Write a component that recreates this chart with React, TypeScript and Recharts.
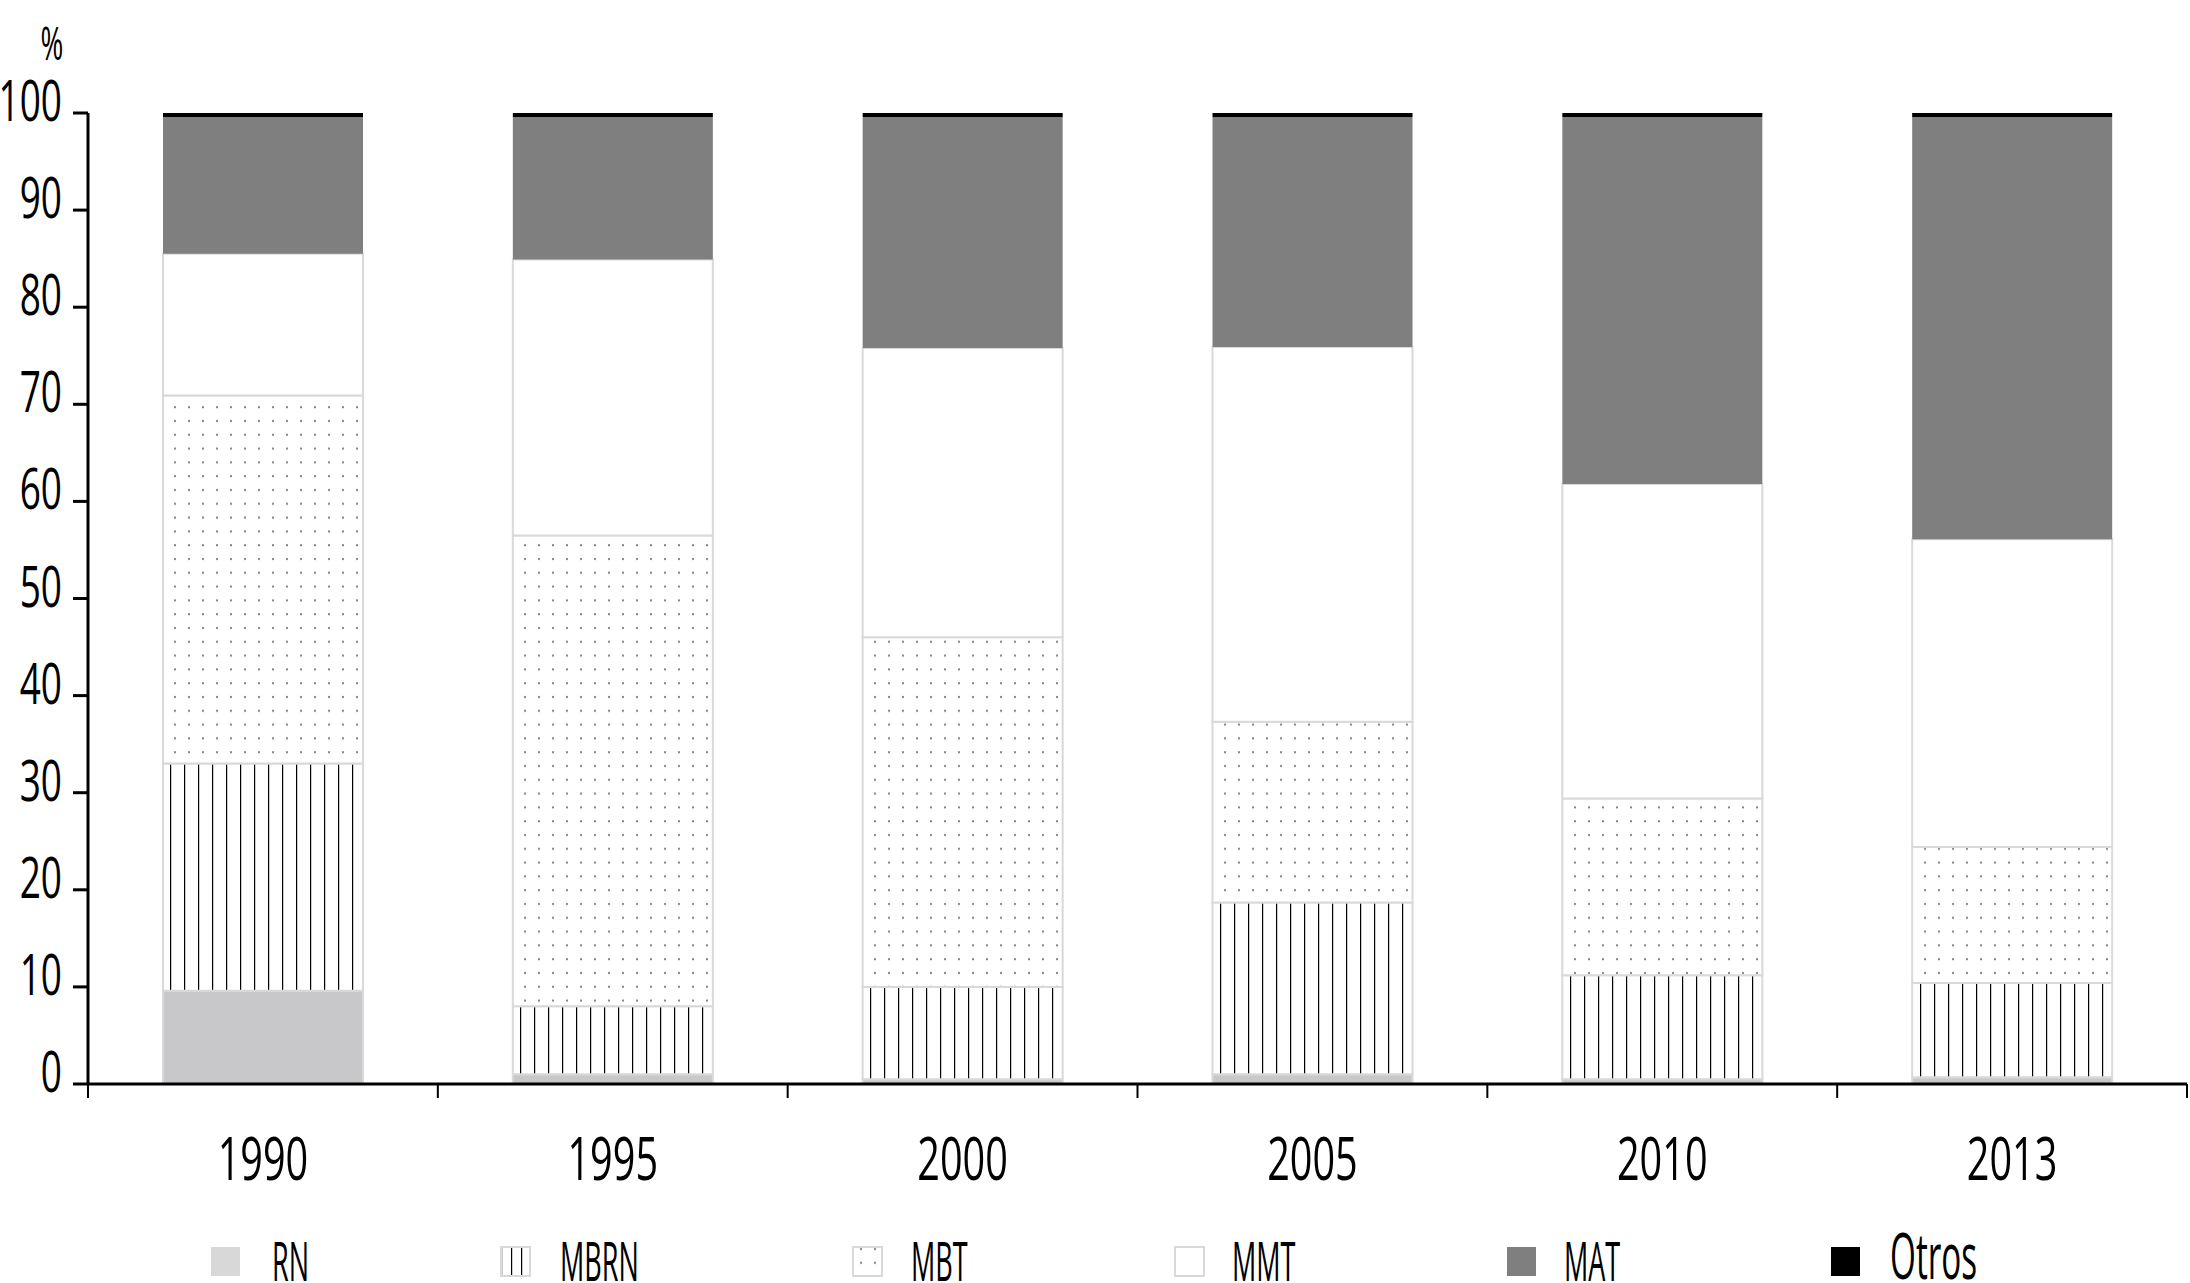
import React from 'react';
import { BarChart, Bar, XAxis, YAxis } from 'recharts';

const years = ['1990', '1995', '2000', '2005', '2010', '2013'];
const rn = [9.6, 1.0, 0.5, 1.0, 0.5, 0.7];
const mbrn = [23.4, 7.0, 9.5, 17.7, 10.7, 9.7];
const mbt = [37.9, 48.5, 36.0, 18.6, 18.2, 14.0];
const mmt = [14.6, 28.4, 29.8, 38.6, 32.4, 31.7];
const mat = [14.1, 14.7, 23.8, 23.7, 37.8, 43.5];
const otros = [0.4, 0.4, 0.4, 0.4, 0.4, 0.4];
const yTicks = [0, 10, 20, 30, 40, 50, 60, 70, 80, 90, 100];
const edgeTicks = [0, 1, 2, 3, 4, 5, 6];
const legendNames = ['RN', 'MBRN', 'MBT', 'MMT', 'MAT', 'Otros'];

const data = years.map((y, i) => ({
  year: y,
  RN: rn[i],
  MBRN: mbrn[i],
  MBT: mbt[i],
  MMT: mmt[i],
  MAT: mat[i],
  Otros: otros[i],
  edge: i + 0.5,
}));

const FONT = '"Open Sans", "DejaVu Sans", sans-serif';

const SText = ({ x, y, anchor, size, sx, children }: any) => (
  <text
    transform={`translate(${x},${y}) scale(${sx},1)`}
    textAnchor={anchor}
    fontSize={size}
    fontFamily={FONT}
    fill="#000"
  >
    {children}
  </text>
);

const YTick = (props: any) => {
  const { x, y, payload } = props;
  return (
    <SText x={x} y={y + 8} anchor="end" size={56} sx={0.66}>
      {payload.value}
    </SText>
  );
};

const XTick = (props: any) => {
  const { x, y, payload } = props;
  return (
    <SText x={x} y={y + 74} anchor="middle" size={60} sx={0.66}>
      {payload.value}
    </SText>
  );
};

const EmptyTick = () => <g />;

const fills: Record<string, string> = {
  RN: '#c8c8ca',
  MBRN: 'url(#pMBRN)',
  MBT: 'url(#pMBT)',
  MMT: '#ffffff',
  MAT: '#7f7f7f',
  Otros: '#000000',
};
const legendFills: Record<string, string> = {
  RN: '#d8d8d8',
  MBRN: 'url(#pMBRNL)',
  MBT: 'url(#pMBT)',
  MMT: '#ffffff',
  MAT: '#7f7f7f',
  Otros: '#000000',
};
const bordered: Record<string, boolean> = {
  RN: false,
  MBRN: true,
  MBT: true,
  MMT: true,
  MAT: false,
  Otros: false,
};

const legendLayout = [
  { sq: 210, tx: 272 },
  { sq: 500, tx: 560 },
  { sq: 852, tx: 911 },
  { sq: 1174, tx: 1232 },
  { sq: 1506, tx: 1564 },
  { sq: 1830, tx: 1890 },
];

export default function App() {
  return (
    <div style={{ position: 'absolute', left: 0, top: 0, width: 2190, height: 1283, background: '#fff' }}>
      <svg width={0} height={0} style={{ position: 'absolute' }}>
        <defs>
          <pattern id="pMBRN" patternUnits="userSpaceOnUse" width={14} height={14}>
            <rect width={14} height={14} fill="#fff" />
            <rect x={2} y={0} width={1.2} height={14} fill="#000" />
          </pattern>
          <pattern id="pMBRNL" patternUnits="userSpaceOnUse" width={10} height={14}>
            <rect width={10} height={14} fill="#fff" />
            <rect x={1} y={0} width={1.2} height={14} fill="#000" />
          </pattern>
          <pattern id="pMBT" patternUnits="userSpaceOnUse" width={14} height={13.8}>
            <rect width={14} height={13.8} fill="#fff" />
            <rect x={6} y={6} width={2} height={2} fill="#858585" />
          </pattern>
        </defs>
      </svg>
      <BarChart
        width={2190}
        height={1283}
        data={data}
        margin={{ top: 113, right: 3, left: 0, bottom: 85 }}
        barSize={200}
      >
        <XAxis
          xAxisId="a_edge"
          dataKey="edge"
          type="number"
          domain={[0, 6]}
          ticks={edgeTicks}
          interval={0}
          allowDataOverflow
          height={14}
          tick={EmptyTick}
          tickSize={14}
          tickMargin={0}
          axisLine={{ stroke: '#000', strokeWidth: 3 }}
          tickLine={{ stroke: '#000', strokeWidth: 2 }}
        />
        <XAxis
          xAxisId="b_cat"
          dataKey="year"
          type="category"
          height={100}
          axisLine={false}
          tickLine={false}
          tick={XTick}
          interval={0}
        />
        <YAxis
          type="number"
          domain={[0, 100]}
          ticks={yTicks}
          interval={0}
          width={88}
          axisLine={{ stroke: '#000', strokeWidth: 3 }}
          tickLine={{ stroke: '#000', strokeWidth: 3 }}
          tickSize={15}
          tickMargin={11}
          tick={YTick}
        />
        {legendNames.map((k) => (
          <Bar
            key={k}
            xAxisId="b_cat"
            dataKey={k}
            stackId="a"
            fill={fills[k]}
            stroke={k === 'MAT' || k === 'Otros' ? 'none' : '#d9d9d9'}
            strokeWidth={2}
            isAnimationActive={false}
          />
        ))}
      </BarChart>
      <svg width={2190} height={1283} style={{ position: 'absolute', left: 0, top: 0, pointerEvents: 'none' }}>
        <SText x={52} y={60} anchor="middle" size={46} sx={0.6}>
          %
        </SText>
        {legendNames.map((k, i) => (
          <g key={k}>
            <rect
              x={legendLayout[i].sq + 1}
              y={1247}
              width={29}
              height={29}
              fill={legendFills[k]}
              stroke={bordered[k] ? '#d9d9d9' : 'none'}
              strokeWidth={2}
            />
            <SText
              x={legendLayout[i].tx}
              y={k === 'Otros' ? 1279 : 1281}
              anchor="start"
              size={k === 'Otros' ? 64 : 54}
              sx={k === 'Otros' ? 0.52 : 0.5}
            >
              {k}
            </SText>
          </g>
        ))}
      </svg>
    </div>
  );
}
